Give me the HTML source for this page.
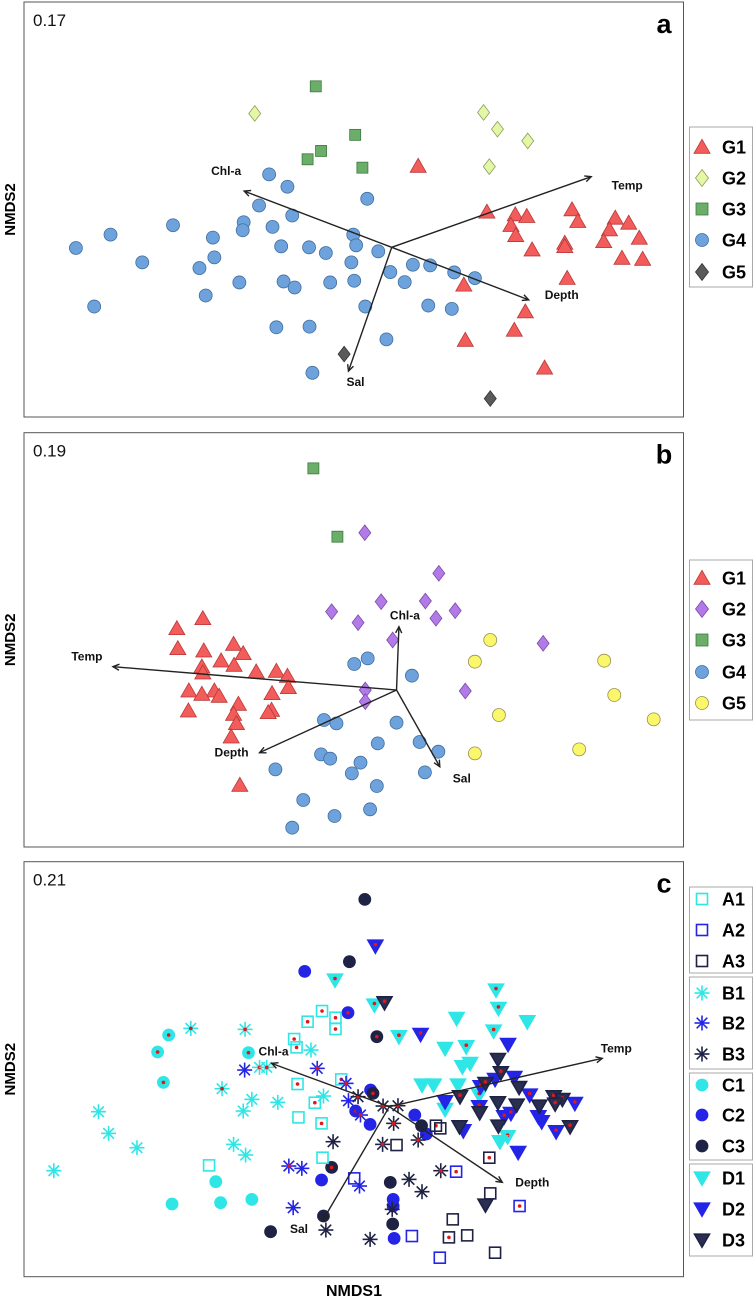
<!DOCTYPE html>
<html><head><meta charset="utf-8"><style>
html,body{margin:0;padding:0;background:#fff;}
svg{display:block;font-family:"Liberation Sans",Arial,sans-serif;}
</style></head><body>
<svg id="root" width="753" height="1298" viewBox="0 0 753 1298" xmlns="http://www.w3.org/2000/svg"></svg>
<script>
// ---------- data (NMDS scores, arbitrary units) ----------
// Panel a
const aG1 = [[8.70,4.95],[10.13,6.32],[10.72,6.40],[10.96,6.45],[11.90,6.25],[12.02,6.60],[10.63,6.72],[10.73,7.02],[11.07,7.45],[11.75,7.25],[11.75,7.35],[12.80,6.50],[13.08,6.65],[12.68,6.85],[13.30,7.10],[12.56,7.20],[12.94,7.70],[13.37,7.73],[11.80,8.30],[9.65,8.50],[10.93,9.30],[10.70,9.85],[9.68,10.15],[11.33,10.98]];
const aG2 = [[5.30,3.38],[10.06,3.35],[10.35,3.85],[10.98,4.20],[10.18,4.97]];
const aG3 = [[6.57,2.57],[7.39,4.02],[6.68,4.50],[6.40,4.75],[7.54,5.00]];
const aG4 = [[5.60,5.20],[5.98,5.57],[7.64,5.93],[5.39,6.13],[6.08,6.43],[5.07,6.63],[5.05,6.87],[5.67,6.77],[3.60,6.72],[2.30,7.00],[4.43,7.09],[1.58,7.40],[5.85,7.35],[6.43,7.38],[6.78,7.55],[7.35,7.00],[7.41,7.32],[7.87,7.50],[2.96,7.83],[4.46,7.68],[4.15,8.00],[7.31,7.83],[8.12,8.12],[8.59,7.90],[8.95,7.92],[9.45,8.13],[9.88,8.30],[4.98,8.43],[5.90,8.40],[6.13,8.58],[6.87,8.43],[7.37,8.38],[8.42,8.42],[4.28,8.82],[1.96,9.15],[7.60,9.15],[8.91,9.12],[9.40,9.22],[5.75,9.77],[6.44,9.75],[8.04,10.13],[6.50,11.13]];
const aG5 = [[7.16,10.57],[10.20,11.90]];
const aVectors = ["Chl-a","Temp","Depth","Sal"];
const aVecEnd = [[5.08,5.70],[12.30,5.27],[11.00,8.95],[7.25,11.08]];
const aOrigin = [8.15,7.38];
// Panel b
const bG1 = [[4.22,6.55],[3.68,6.85],[3.70,7.45],[4.24,7.52],[4.86,7.32],[5.06,7.60],[4.60,7.82],[4.87,7.95],[4.20,8.00],[4.22,8.18],[5.33,8.15],[5.75,8.13],[5.98,8.28],[6.00,8.62],[3.93,8.72],[4.46,8.72],[4.20,8.82],[4.56,8.88],[5.66,8.80],[3.92,9.32],[4.96,9.12],[4.86,9.42],[5.65,9.30],[5.58,9.37],[4.92,9.70],[4.81,10.10],[4.99,11.55]];
const bG2 = [[7.59,3.98],[9.13,5.20],[7.93,6.05],[8.85,6.03],[9.47,6.32],[9.07,6.55],[6.90,6.35],[7.45,6.68],[8.17,7.20],[11.30,7.30],[9.68,8.73],[7.60,8.70],[7.60,9.05]];
const bG3 = [[6.52,2.05],[7.02,4.10]];
const bG4 = [[7.65,7.75],[7.37,7.92],[8.57,8.27],[6.74,9.60],[7.00,9.70],[8.25,9.68],[7.86,10.30],[8.73,10.26],[9.12,10.55],[6.68,10.63],[6.87,10.76],[7.50,10.88],[5.73,11.08],[7.32,11.20],[8.84,11.17],[7.84,11.58],[6.31,12.00],[6.96,12.48],[7.70,12.28],[6.08,12.83]];
const bG5 = [[10.20,7.20],[9.88,7.85],[12.57,7.82],[12.78,8.85],[10.38,9.45],[13.60,9.58],[9.88,10.60],[12.05,10.48]];
const bVectors = ["Temp","Chl-a","Depth","Sal"];
const bVecEnd = [[2.35,8.00],[8.30,6.80],[5.40,10.58],[9.15,11.00]];
const bOrigin = [8.25,8.70];
// Panel c  [x, y, marked]
const cA1 = [[6.70,5.43,1],[6.40,5.75,1],[6.98,5.63,1],[6.98,5.97,1],[6.12,6.27,1],[6.17,6.52,1],[6.19,7.62,1],[7.10,7.48,1],[6.55,8.18,1],[6.21,8.62,0],[6.69,8.80,1],[6.71,9.83,0],[4.35,10.06,0]];
const cA2 = [[7.37,10.45,0],[9.49,10.25,1],[10.81,11.28,1],[8.57,12.18,0],[9.15,12.83,0]];
const cA3 = [[8.25,9.45,0],[9.07,8.87,1],[9.16,8.95,0],[10.18,9.83,1],[10.20,10.90,0],[9.42,11.68,0],[9.34,12.22,1],[9.72,12.16,0],[10.30,12.68,0]];
const cB1 = [[3.97,5.95,1],[5.10,5.98,1],[6.47,6.60,0],[5.40,7.12,1],[5.55,7.12,1],[4.62,7.76,1],[5.24,8.08,0],[5.78,8.17,0],[5.06,8.43,0],[6.73,7.98,0],[2.05,8.45,0],[2.26,9.10,0],[2.85,9.53,0],[4.86,9.43,0],[5.11,9.75,0],[1.12,10.22,0]];
const cB2 = [[5.09,7.20,0],[6.60,7.15,1],[7.20,7.60,1],[7.25,8.12,0],[7.50,8.55,1],[6.01,10.08,1],[6.28,10.15,0],[7.48,10.68,0],[6.10,11.33,0]];
const cB3 = [[7.45,8.00,1],[7.97,8.28,1],[8.28,8.27,1],[8.19,8.80,1],[8.70,9.30,1],[6.93,9.35,0],[7.96,9.43,1],[9.17,10.22,1],[8.51,10.48,0],[8.78,10.85,0],[8.16,11.38,0],[6.78,12.00,0],[7.70,12.28,0]];
const cC1 = [[3.51,6.15,1],[3.28,6.66,1],[5.17,6.68,1],[3.40,7.57,1],[4.49,10.55,0],[3.58,11.22,0],[4.59,11.18,0],[5.24,11.08,0]];
const cC2 = [[6.34,4.24,0],[7.24,5.48,1],[7.71,7.80,1],[7.40,8.43,1],[7.70,8.83,0],[8.63,8.55,0],[8.87,9.12,0],[6.69,10.50,0],[8.18,11.08,0],[8.18,11.28,0],[8.20,12.25,0]];
const cC3 = [[7.59,2.08,0],[7.27,3.95,0],[7.84,6.20,1],[7.76,7.90,1],[8.77,8.87,0],[6.90,10.12,1],[8.12,10.57,0],[8.17,11.82,0],[5.63,12.05,0],[6.73,11.58,0]];
const cD1 = [[6.97,4.50,1],[7.79,5.25,1],[10.32,4.80,1],[10.37,5.35,1],[9.50,5.65,0],[10.97,5.75,0],[10.27,6.03,1],[8.30,6.20,1],[9.26,6.55,0],[9.70,6.50,1],[9.78,7.00,0],[9.62,7.10,0],[8.78,7.65,0],[9.02,7.65,0],[9.53,7.65,0],[9.26,8.38,0],[9.97,7.95,1],[10.56,9.20,1],[10.40,9.35,0]];
const cD2 = [[7.81,3.48,1],[8.75,6.13,1],[10.57,6.43,0],[10.00,7.70,1],[10.70,7.42,0],[10.30,7.48,0],[11.02,7.95,1],[9.26,8.15,0],[9.97,8.30,1],[10.49,8.60,1],[10.63,8.50,1],[11.20,8.60,0],[11.27,8.75,0],[11.96,8.20,1],[11.57,9.05,1],[9.64,9.02,0],[10.78,9.67,0]];
const cD3 = [[8.00,5.18,1],[10.36,6.88,0],[10.42,7.28,1],[10.10,7.60,1],[10.80,7.72,0],[11.52,8.00,1],[11.70,8.08,1],[10.36,8.18,0],[10.75,8.25,0],[11.22,8.28,0],[11.55,8.22,1],[9.57,8.00,1],[9.98,8.48,0],[10.37,8.88,0],[9.56,8.90,0],[11.86,8.90,1],[10.10,11.25,0]];
const cVectors = ["Chl-a","Temp","Depth","Sal"];
const cVecEnd = [[5.65,7.00],[12.53,6.85],[10.45,10.57],[6.72,11.70]];
const cOrigin = [8.10,8.30];

// ---------- helpers ----------
const NS = "http://www.w3.org/2000/svg";
const root = document.getElementById('root');
function mk(tag, attrs, parent){ const e=document.createElementNS(NS,tag); for(const k in attrs) e.setAttribute(k,attrs[k]); (parent||root).appendChild(e); return e; }
function lin(d0,d1,r0,r1){ return v => r0 + (v-d0)/(d1-d0)*(r1-r0); }
const xS = lin(0.50,14.22,24,683.5);
const panels = [
  {id:'a', y: lin(0.05,12.45,2,417), top:2, bot:417, stat:'0.17'},
  {id:'b', y: lin(0.98,13.41,432.7,847), top:432.7, bot:847, stat:'0.19'},
  {id:'c', y: lin(0.95,13.40,861.7,1276.7), top:861.7, bot:1276.7, stat:'0.21'}
];
function marker(g, shape, x, y, fill, stroke, s){
  let e;
  if(shape==='circle') e=mk('circle',{cx:x,cy:y,r:s,fill:fill,stroke:stroke,'stroke-width':0.8},g);
  else if(shape==='tri') e=mk('polygon',{points:`${x},${y-s*1.1} ${x-s*1.15},${y+s*0.9} ${x+s*1.15},${y+s*0.9}`,fill:fill,stroke:stroke,'stroke-width':0.8},g);
  else if(shape==='dtri') e=mk('polygon',{points:`${x-s*1.15},${y-s*0.9} ${x+s*1.15},${y-s*0.9} ${x},${y+s*1.1}`,fill:fill,stroke:stroke,'stroke-width':1.6},g);
  else if(shape==='sq') e=mk('rect',{x:x-s,y:y-s,width:2*s,height:2*s,fill:fill,stroke:stroke,'stroke-width':0.8},g);
  else if(shape==='osq') e=mk('rect',{x:x-s,y:y-s,width:2*s,height:2*s,fill:'none',stroke:stroke,'stroke-width':1.6},g);
  else if(shape==='dia') e=mk('polygon',{points:`${x},${y-s*1.3} ${x+s},${y} ${x},${y+s*1.3} ${x-s},${y}`,fill:fill,stroke:stroke,'stroke-width':0.8},g);
  else if(shape==='ast'){
    e=mk('g',{},g);
    for(let k=0;k<4;k++){ const a=k*Math.PI/4; const dx=Math.sin(a)*s, dy=Math.cos(a)*s;
      mk('line',{x1:x-dx,y1:y-dy,x2:x+dx,y2:y+dy,stroke:stroke,'stroke-width':1.6},e); }
  }
  return e;
}
function drawFrame(p){
  const r=mk('rect',{x:24,y:p.top,width:659.5,height:p.bot-p.top,fill:'none',stroke:'#555','stroke-width':1});
  
  
  const t=mk('text',{x:33,y:p.top+24,'font-size':17,fill:'#111'}); t.textContent=p.stat;
  
  
  const l=mk('text',{x:664,y:p.top+31,'font-size':27,'font-weight':'bold','text-anchor':'middle',fill:'#000'}); l.textContent=p.id;
  
  
  const yt=mk('text',{x:0,y:0,'font-size':15,'font-weight':'bold','text-anchor':'middle',transform:`translate(15,${(p.top+p.bot)/2}) rotate(-90)`}); yt.textContent='NMDS2';
  
  
}
function drawSeries(p, data, name, shape, fill, stroke, s){
  const g=mk('g',{});
  
  
  data.forEach(d=>{
    const x=xS(d[0]), y=p.y(d[1]);
    const m=marker(g,shape,x,y,fill,stroke,s);
    
    
    if(d[2]===1){ const dot=mk('circle',{cx:x,cy:shape==='dtri'?y-1.5:y,r:1.8,fill:'#e01818'},g);
      
       }
  });
}
function drawVectors(p, names, ends, origin, labelOff){
  const g=mk('g',{});
  
  
  const ox=xS(origin[0]), oy=p.y(origin[1]);
  names.forEach((n,i)=>{
    const ex=xS(ends[i][0]), ey=p.y(ends[i][1]);
    const ln=mk('line',{x1:ox,y1:oy,x2:ex,y2:ey,stroke:'#222','stroke-width':1.4},g);
    
    
    const a=Math.atan2(ey-oy,ex-ox), h=7;
    mk('polyline',{points:`${ex-h*Math.cos(a-0.45)},${ey-h*Math.sin(a-0.45)} ${ex},${ey} ${ex-h*Math.cos(a+0.45)},${ey-h*Math.sin(a+0.45)}`,fill:'none',stroke:'#222','stroke-width':1.4},g);
    const lo=labelOff[i];
    const t=mk('text',{x:ex+lo[0],y:ey+lo[1],'font-size':12,'font-weight':'bold','text-anchor':'middle',fill:'#111'},g);
    t.textContent=n;
    
    
  });
}
function legendBox(x,y,w,h,name){
  const r=mk('rect',{x:x,y:y,width:w,height:h,fill:'#fff',stroke:'#aaa','stroke-width':1});
  
  
}
function legendEntry(y,label,shape,fill,stroke,s){
  const g=mk('g',{});
  
  
  marker(g,shape,702,y,fill,stroke,s);
  const t=mk('text',{x:722,y:y+6.5,'font-size':18,'font-weight':'bold',fill:'#000'},g); t.textContent=label;
}

// ---------- panel a ----------
const pa=panels[0];
drawFrame(pa);
drawSeries(pa,aG4,'g4','circle','#6ea2dc','#41709e',6.5);
drawSeries(pa,aG3,'g3','sq','#6aae6a','#3e7a3e',5.5);
drawSeries(pa,aG2,'g2','dia','#e4f7a6','#8c9c58',6);
drawSeries(pa,aG5,'g5','dia','#5a5a5a','#333',6);
drawSeries(pa,aG1,'g1','tri','#f25c5a','#b83838',7);
drawVectors(pa,aVectors,aVecEnd,aOrigin,[[-18,-16],[36,13],[33,-1],[7,15]]);
legendBox(689.5,127,63,160,'legend-a');
[['G1','tri','#f25c5a','#b83838',7],['G2','dia','#e4f7a6','#8c9c58',6.5],['G3','sq','#6aae6a','#3e7a3e',6],['G4','circle','#6ea2dc','#41709e',6.5],['G5','dia','#5a5a5a','#333',6.5]]
 .forEach((e,i)=>legendEntry([147,178,209,240,272][i],e[0],e[1],e[2],e[3],e[4]));

// ---------- panel b ----------
const pb=panels[1];
drawFrame(pb);
drawSeries(pb,bG4,'g4','circle','#6ea2dc','#41709e',6.5);
drawSeries(pb,bG3,'g3','sq','#6aae6a','#3e7a3e',5.5);
drawSeries(pb,bG2,'g2','dia','#b27ae6','#7a4aa8',6);
drawSeries(pb,bG5,'g5','circle','#fbf76a','#999050',6.5);
drawSeries(pb,bG1,'g1','tri','#f25c5a','#b83838',7);
drawVectors(pb,bVectors,bVecEnd,bOrigin,[[-26,-6],[6,-7],[-28,4],[22,16]]);
legendBox(689.5,560,63,160,'legend-b');
[['G1','tri','#f25c5a','#b83838',7],['G2','dia','#b27ae6','#7a4aa8',6.5],['G3','sq','#6aae6a','#3e7a3e',6],['G4','circle','#6ea2dc','#41709e',6.5],['G5','circle','#fbf76a','#999050',6.5]]
 .forEach((e,i)=>legendEntry([578,609,640,672,703][i],e[0],e[1],e[2],e[3],e[4]));

// ---------- panel c ----------
const pc=panels[2];
drawFrame(pc);
const CY='#2ee6e6', BL='#2424e6', DK='#1e2244';
drawSeries(pc,cC1,'c1','circle',CY,CY,6);
drawSeries(pc,cC2,'c2','circle',BL,BL,6);
drawSeries(pc,cC3,'c3','circle',DK,DK,6);
drawSeries(pc,cA1,'a1','osq',CY,CY,5.5);
drawSeries(pc,cA2,'a2','osq',BL,BL,5.5);
drawSeries(pc,cA3,'a3','osq',DK,DK,5.5);
drawSeries(pc,cD1,'d1','dtri',CY,CY,6.5);
drawSeries(pc,cD2,'d2','dtri',BL,BL,6.5);
drawSeries(pc,cD3,'d3','dtri','#2a2e50',DK,6.5);
drawSeries(pc,cB1,'b1','ast',CY,CY,7.5);
drawSeries(pc,cB2,'b2','ast',BL,BL,7.5);
drawSeries(pc,cB3,'b3','ast',DK,DK,7.5);
drawVectors(pc,cVectors,cVecEnd,cOrigin,[[2,-8],[14,-6],[30,4],[-24,13]]);
legendBox(689.5,887,63,86,'legend-c-a');
legendBox(689.5,977,63,92,'legend-c-b');
legendBox(689.5,1073,63,87,'legend-c-c');
legendBox(689.5,1164,63,92,'legend-c-d');
[['A1','osq',CY,CY,5.5],['A2','osq',BL,BL,5.5],['A3','osq',DK,DK,5.5],
 ['B1','ast',CY,CY,7.5],['B2','ast',BL,BL,7.5],['B3','ast',DK,DK,7.5],
 ['C1','circle',CY,CY,6],['C2','circle',BL,BL,6],['C3','circle',DK,DK,6],
 ['D1','dtri',CY,CY,6.5],['D2','dtri',BL,BL,6.5],['D3','dtri','#2a2e50',DK,6.5]]
 .forEach((e,i)=>legendEntry([899,930,961,993,1023,1054,1085,1115,1146,1178,1209,1240][i],e[0],e[1],e[2],e[3],e[4]));
const xt=mk('text',{x:354,y:1296,'font-size':16,'font-weight':'bold','text-anchor':'middle'}); xt.textContent='NMDS1';


</script>
</body></html>
